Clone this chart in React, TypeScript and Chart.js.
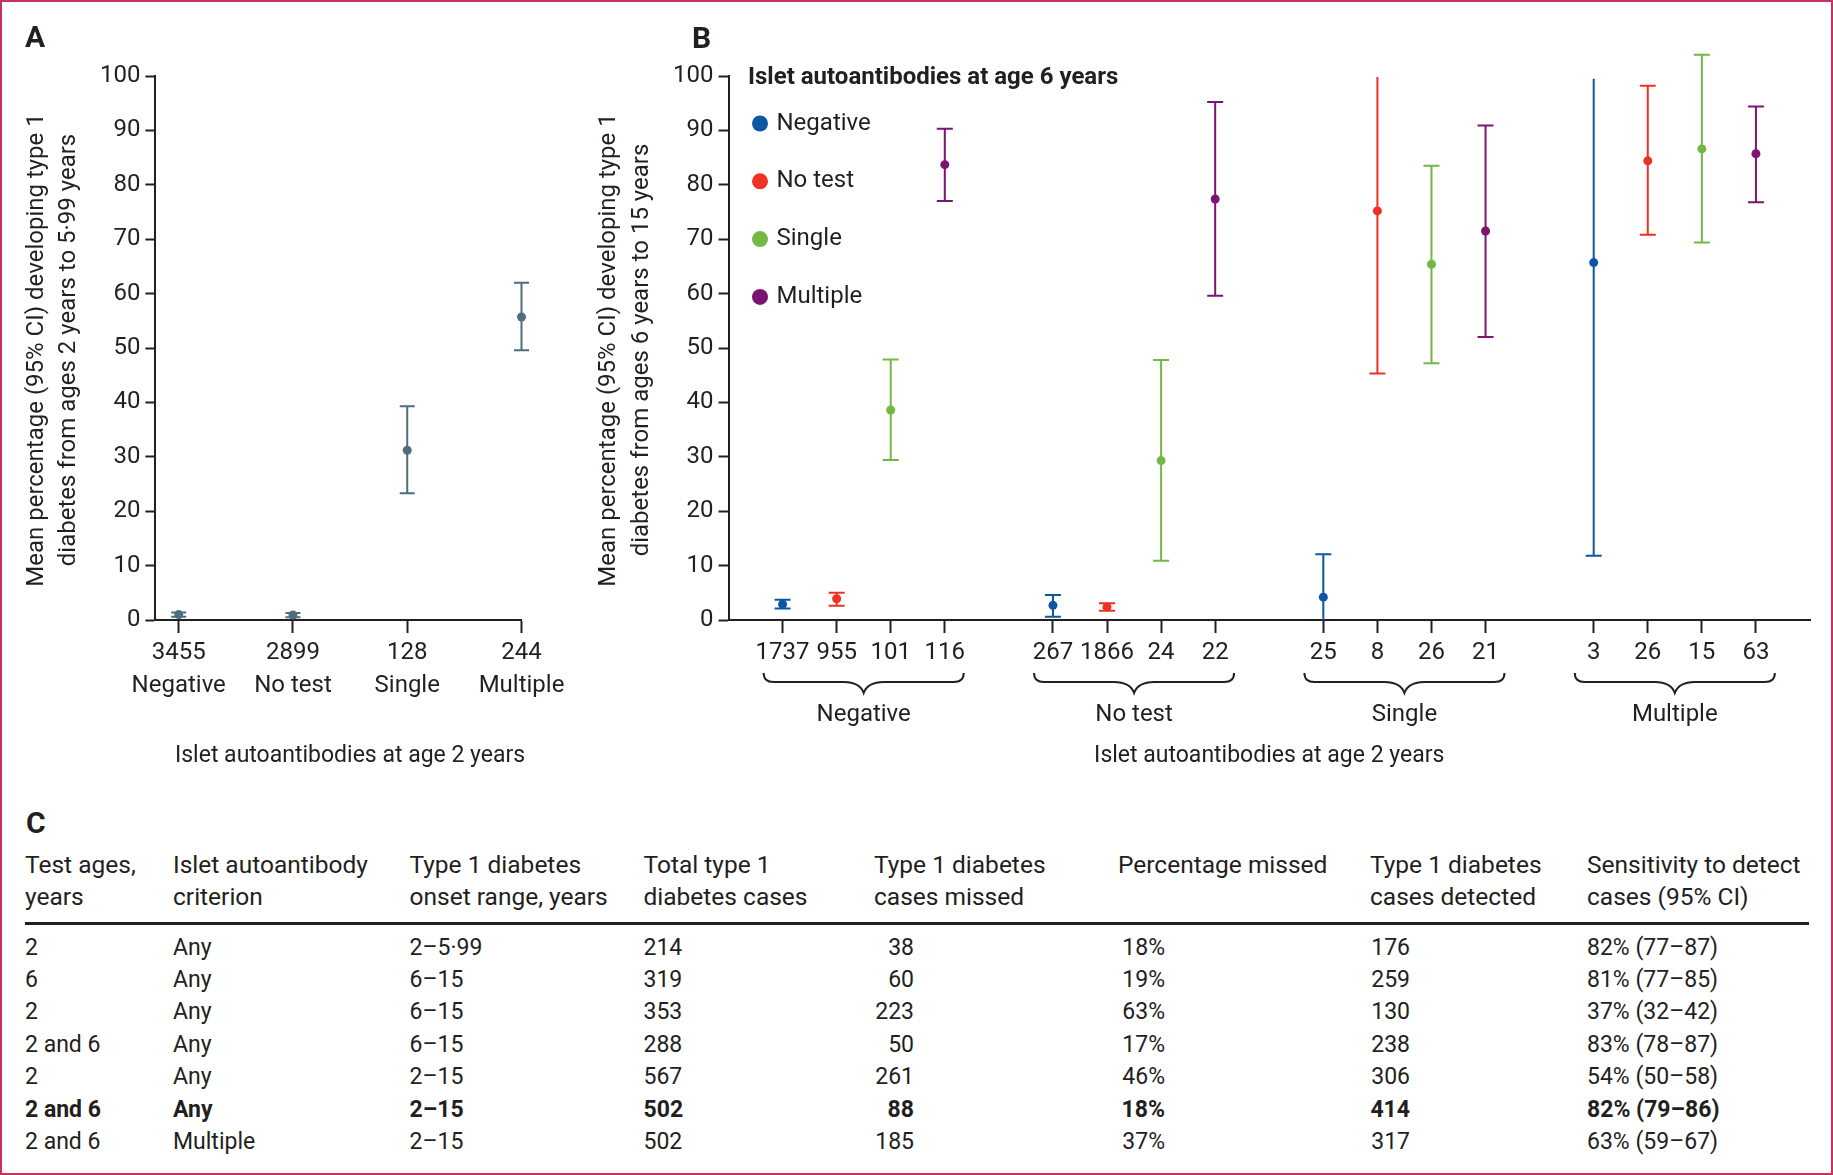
import React, { useEffect, useRef } from 'react';
import { Chart, registerables } from 'chart.js';

Chart.register(...registerables);

// ---------- DATA ----------
// Panel A: islet autoantibodies at age 2 years -> T1D from 2 to 5.99 years
const aCategories = ['Negative', 'No test', 'Single', 'Multiple'];
const aCounts = [3455, 2899, 128, 244];
const aMean = [1.0, 0.9, 31.2, 55.7];
const aLow = [0.6, 0.5, 23.3, 49.6];
const aHigh = [1.4, 1.3, 39.3, 62.0];

// Panel B: groups = autoantibodies at age 2; series = autoantibodies at age 6
const bGroups = ['Negative', 'No test', 'Single', 'Multiple'];
const bSeriesNames = ['Negative', 'No test', 'Single', 'Multiple'];

const bNegN = [1737, 267, 25, 3];
const bNegMean = [2.9, 2.7, 4.2, 65.7];
const bNegLow = [2.1, 0.6, 0, 11.8];
const bNegHigh = [3.7, 4.6, 12.1, 99.5];
const bNegCaps = [[true, true], [true, true], [false, true], [true, false]];

const bNoTestN = [955, 1866, 8, 26];
const bNoTestMean = [3.9, 2.4, 75.2, 84.4];
const bNoTestLow = [2.6, 1.7, 45.3, 70.8];
const bNoTestHigh = [5.0, 3.1, 99.8, 98.2];
const bNoTestCaps = [[true, true], [true, true], [true, false], [true, true]];

const bSingleN = [101, 24, 26, 15];
const bSingleMean = [38.6, 29.3, 65.4, 86.6];
const bSingleLow = [29.4, 10.9, 47.2, 69.4];
const bSingleHigh = [47.9, 47.8, 83.5, 103.9];
const bSingleCaps = [[true, true], [true, true], [true, true], [true, true]];

const bMultipleN = [116, 22, 21, 63];
const bMultipleMean = [83.7, 77.4, 71.5, 85.7];
const bMultipleLow = [77.0, 59.6, 52.0, 76.8];
const bMultipleHigh = [90.3, 95.2, 90.9, 94.4];
const bMultipleCaps = [[true, true], [true, true], [true, true], [true, true]];

const yTicksMax = 100;
const yTickStep = 10;

// Texts
const yTitleA = ['Mean percentage (95% CI) developing type 1', 'diabetes from ages 2 years to 5·99 years'];
const yTitleB = ['Mean percentage (95% CI) developing type 1', 'diabetes from ages 6 years to 15 years'];
const xTitle = 'Islet autoantibodies at age 2 years';
const legendTitle = 'Islet autoantibodies at age 6 years';

// Panel C table
const tableHeaders = [
  ['Test ages,', 'years'],
  ['Islet autoantibody', 'criterion'],
  ['Type 1 diabetes', 'onset range, years'],
  ['Total type 1', 'diabetes cases'],
  ['Type 1 diabetes', 'cases missed'],
  ['Percentage missed', ''],
  ['Type 1 diabetes', 'cases detected'],
  ['Sensitivity to detect', 'cases (95% CI)'],
];
const testAges = ['2', '6', '2', '2 and 6', '2', '2 and 6', '2 and 6'];
const criterion = ['Any', 'Any', 'Any', 'Any', 'Any', 'Any', 'Multiple'];
const onsetRange = ['2–5·99', '6–15', '6–15', '6–15', '2–15', '2–15', '2–15'];
const totalCases = [214, 319, 353, 288, 567, 502, 502];
const casesMissed = [38, 60, 223, 50, 261, 88, 185];
const percentMissed = ['18%', '19%', '63%', '17%', '46%', '18%', '37%'];
const casesDetected = [176, 259, 130, 238, 306, 414, 317];
const sensitivity = ['82% (77–87)', '81% (77–85)', '37% (32–42)', '83% (78–87)', '54% (50–58)', '82% (79–86)', '63% (59–67)'];
const boldRow = 5;

// ---------- STYLE ----------
const FONT = "Roboto, 'Liberation Sans', Arial, sans-serif";
const INK = '#231f20';
const A_COLOR = '#4f6e7d';
const BLUE = '#0b57a4';
const RED = '#ee3124';
const GREEN = '#72b843';
const PURPLE = '#7c1571';
const SERIES_COLORS = [BLUE, RED, GREEN, PURPLE];
const TICK_FONT = 24;
const YTITLE_FONT = 24;
const XTITLE_FONT = 23;
const LEGEND_FONT = 24;

const errorBars = {
  id: 'errorBars',
  beforeDatasetsDraw(chart: any, _a: any, opts: any) {
    const { ctx } = chart;
    const xs = chart.scales.x;
    const ys = chart.scales.y;
    const cap = opts.cap || 8;
    chart.data.datasets.forEach((ds: any) => {
      ctx.save();
      ctx.strokeStyle = ds.borderColor;
      ctx.lineWidth = 2;
      ds.data.forEach((p: any) => {
        const px = xs.getPixelForValue(p.x);
        const pl = ys.getPixelForValue(p.low);
        const ph = ys.getPixelForValue(p.high);
        ctx.beginPath();
        ctx.moveTo(px, pl);
        ctx.lineTo(px, ph);
        if (p.capLow) {
          ctx.moveTo(px - cap, pl);
          ctx.lineTo(px + cap, pl);
        }
        if (p.capHigh) {
          ctx.moveTo(px - cap, ph);
          ctx.lineTo(px + cap, ph);
        }
        ctx.stroke();
      });
      ctx.restore();
    });
  },
};

const annot = {
  id: 'annot',
  afterDraw(chart: any, _a: any, opts: any) {
    const { ctx, chartArea: ca } = chart;
    const xs = chart.scales.x;
    ctx.save();
    ctx.fillStyle = INK;
    ctx.strokeStyle = INK;
    ctx.textAlign = 'center';
    ctx.textBaseline = 'middle';
    // y-axis title (two lines, rotated)
    ctx.font = `${YTITLE_FONT}px ${FONT}`;
    (opts.yTitle as string[]).forEach((line, i) => {
      ctx.save();
      ctx.translate(ca.left + opts.yTitleOffsets[i], (ca.top + ca.bottom) / 2 + 2);
      ctx.rotate(-Math.PI / 2);
      ctx.fillText(line, 0, 0);
      ctx.restore();
    });
    // x-axis title
    ctx.font = `${XTITLE_FONT}px ${FONT}`;
    ctx.fillText(opts.xTitle, xs.getPixelForValue(opts.xTitleAt), ca.bottom + 136.5);
    // group braces
    if (opts.groups) {
      ctx.lineWidth = 2;
      ctx.font = `${TICK_FONT}px ${FONT}`;
      (opts.groups as string[]).forEach((g, gi) => {
        const x1 = xs.getPixelForValue(gi * 5 - 0.35);
        const x2 = xs.getPixelForValue(gi * 5 + 3.35);
        const xm = (x1 + x2) / 2;
        const yT = ca.bottom + 53;
        const yH = ca.bottom + 62;
        const yTip = ca.bottom + 73;
        ctx.beginPath();
        ctx.moveTo(x1, yT);
        ctx.quadraticCurveTo(x1, yH, x1 + 10, yH);
        ctx.lineTo(xm - 20, yH);
        ctx.quadraticCurveTo(xm - 4, yH, xm, yTip);
        ctx.quadraticCurveTo(xm + 4, yH, xm + 20, yH);
        ctx.lineTo(x2 - 10, yH);
        ctx.quadraticCurveTo(x2, yH, x2, yT);
        ctx.stroke();
        ctx.fillText(g, xm, ca.bottom + 95);
      });
    }
    // legend
    if (opts.legend) {
      ctx.textAlign = 'left';
      ctx.font = `bold ${LEGEND_FONT}px ${FONT}`;
      ctx.fillText(opts.legend.title, ca.left + 19.5, ca.top + 2);
      ctx.font = `${LEGEND_FONT}px ${FONT}`;
      (opts.legend.items as string[]).forEach((item, i) => {
        const y = ca.top + 47.5 + i * 57.8;
        ctx.fillStyle = opts.legend.colors[i];
        ctx.beginPath();
        ctx.arc(ca.left + 31.5, y, 8, 0, Math.PI * 2);
        ctx.fill();
        ctx.fillStyle = INK;
        ctx.fillText(item, ca.left + 48, y);
      });
    }
    ctx.restore();
  },
};

function axisCommon(tickLength: number) {
  return {
    grid: { drawOnChartArea: false, drawTicks: true, tickLength, tickWidth: 2, tickColor: INK },
    border: { display: true, color: INK, width: 2 },
  };
}

function yScale(width: number) {
  return {
    min: 0,
    max: yTicksMax,
    ticks: { stepSize: yTickStep, color: INK, padding: 5, font: { family: FONT, size: TICK_FONT } },
    ...axisCommon(10),
    afterFit: (s: any) => {
      s.width = width;
    },
  };
}

function ChartA() {
  const ref = useRef<HTMLCanvasElement>(null);
  useEffect(() => {
    const data = aMean.map((m, i) => ({ x: i, y: m, low: aLow[i], high: aHigh[i], capLow: true, capHigh: true }));
    const chart = new Chart(ref.current!, {
      type: 'scatter',
      data: {
        datasets: [
          {
            data,
            pointRadius: 4.5,
            pointBackgroundColor: A_COLOR,
            pointBorderWidth: 0,
            borderColor: A_COLOR,
            clip: false,
          } as any,
        ],
      },
      options: {
        responsive: false,
        animation: false,
        events: [],
        layout: { padding: { left: 0, top: 76, right: 600 - 521.5, bottom: 50 } },
        plugins: {
          legend: { display: false },
          tooltip: { enabled: false },
          errorBars: { cap: 7.5 },
          annot: { yTitle: yTitleA, yTitleOffsets: [-118, -86], xTitle, xTitleAt: 1.5 },
        } as any,
        scales: {
          x: {
            type: 'linear',
            min: -0.204,
            max: 3,
            afterBuildTicks: (s: any) => {
              s.ticks = aCounts.map((_, i) => ({ value: i }));
            },
            ticks: {
              autoSkip: false,
              maxRotation: 0,
              padding: 3,
              color: INK,
              font: { family: FONT, size: TICK_FONT, lineHeight: 1.4 },
              callback: (v: any) => [String(aCounts[v]), aCategories[v]],
            },
            ...axisCommon(13),
            afterFit: (s: any) => {
              s.height = 120;
            },
          } as any,
          y: yScale(155.4) as any,
        },
      },
      plugins: [errorBars, annot],
    });
    return () => chart.destroy();
  }, []);
  return <canvas ref={ref} width={600} height={790} style={{ position: 'absolute', left: 0, top: 0, width: 600, height: 790 }} />;
}

function ChartB() {
  const ref = useRef<HTMLCanvasElement>(null);
  useEffect(() => {
    const series = [
      { n: bNegN, mean: bNegMean, low: bNegLow, high: bNegHigh, caps: bNegCaps },
      { n: bNoTestN, mean: bNoTestMean, low: bNoTestLow, high: bNoTestHigh, caps: bNoTestCaps },
      { n: bSingleN, mean: bSingleMean, low: bSingleLow, high: bSingleHigh, caps: bSingleCaps },
      { n: bMultipleN, mean: bMultipleMean, low: bMultipleLow, high: bMultipleHigh, caps: bMultipleCaps },
    ];
    const countAt: Record<number, number> = {};
    const positions: number[] = [];
    bGroups.forEach((_, g) =>
      series.forEach((s, si) => {
        const pos = g * 5 + si;
        positions.push(pos);
        countAt[pos] = s.n[g];
      })
    );
    positions.sort((a, b) => a - b);
    const datasets = series.map((s, si) => ({
      label: bSeriesNames[si],
      data: s.mean.map((m, g) => ({
        x: g * 5 + si,
        y: m,
        low: s.low[g],
        high: s.high[g],
        capLow: s.caps[g][0],
        capHigh: s.caps[g][1],
      })),
      pointRadius: 4.5,
      pointBackgroundColor: SERIES_COLORS[si],
      pointBorderWidth: 0,
      borderColor: SERIES_COLORS[si],
      clip: false,
    }));
    const chart = new Chart(ref.current!, {
      type: 'scatter',
      data: { datasets: datasets as any },
      options: {
        responsive: false,
        animation: false,
        events: [],
        layout: { padding: { left: 0, top: 76, right: 1253 - 1230, bottom: 50 } },
        plugins: {
          legend: { display: false },
          tooltip: { enabled: false },
          errorBars: { cap: 8 },
          annot: {
            yTitle: yTitleB,
            yTitleOffsets: [-119.5, -87],
            xTitle,
            xTitleAt: 9,
            groups: bGroups,
            legend: { title: legendTitle, items: bSeriesNames, colors: SERIES_COLORS },
          },
        } as any,
        scales: {
          x: {
            type: 'linear',
            min: -1,
            max: 19,
            afterBuildTicks: (s: any) => {
              s.ticks = positions.map((p) => ({ value: p }));
            },
            ticks: {
              autoSkip: false,
              maxRotation: 0,
              padding: 3,
              color: INK,
              font: { family: FONT, size: TICK_FONT, lineHeight: 1.4 },
              callback: (v: any) => String(countAt[v]),
            },
            ...axisCommon(13),
            afterFit: (s: any) => {
              s.height = 120;
            },
          } as any,
          y: yScale(148.5) as any,
        },
      },
      plugins: [errorBars, annot],
    });
    return () => chart.destroy();
  }, []);
  return <canvas ref={ref} width={1253} height={790} style={{ position: 'absolute', left: 580, top: 0, width: 1253, height: 790 }} />;
}

const colLeft = [25, 173, 409.5, 643.5, 874, 1118, 1370, 1587];
const HEAD_FONT = 24.5;
const ROW_FONT = 23;

function Cell({ x, y, text, size, bold, align }: any) {
  const style: React.CSSProperties = {
    position: 'absolute',
    top: y - size / 2,
    fontSize: size,
    lineHeight: 1,
    whiteSpace: 'nowrap',
    fontWeight: bold ? 700 : 400,
    color: INK,
  };
  if (align === 'right') {
    style.left = x - 300;
    style.width = 300;
    style.textAlign = 'right';
  } else {
    style.left = x;
  }
  return <div style={style}>{text}</div>;
}

function Table() {
  const rowY = (i: number) => 947 + i * 32.45;
  const cells: any[] = [];
  tableHeaders.forEach((h, c) => {
    cells.push(<Cell key={`h1${c}`} x={colLeft[c]} y={865} text={h[0]} size={HEAD_FONT} />);
    if (h[1]) cells.push(<Cell key={`h2${c}`} x={colLeft[c]} y={897} text={h[1]} size={HEAD_FONT} />);
  });
  testAges.forEach((_, r) => {
    const b = r === boldRow;
    const y = rowY(r);
    cells.push(<Cell key={`a${r}`} x={colLeft[0]} y={y} text={testAges[r]} size={ROW_FONT} bold={b} />);
    cells.push(<Cell key={`b${r}`} x={colLeft[1]} y={y} text={criterion[r]} size={ROW_FONT} bold={b} />);
    cells.push(<Cell key={`c${r}`} x={colLeft[2]} y={y} text={onsetRange[r]} size={ROW_FONT} bold={b} />);
    cells.push(<Cell key={`d${r}`} x={colLeft[3]} y={y} text={String(totalCases[r])} size={ROW_FONT} bold={b} />);
    cells.push(<Cell key={`e${r}`} x={914} y={y} text={String(casesMissed[r])} size={ROW_FONT} bold={b} align="right" />);
    cells.push(<Cell key={`f${r}`} x={1165} y={y} text={percentMissed[r]} size={ROW_FONT} bold={b} align="right" />);
    cells.push(<Cell key={`g${r}`} x={1410} y={y} text={String(casesDetected[r])} size={ROW_FONT} bold={b} align="right" />);
    cells.push(<Cell key={`h${r}`} x={colLeft[7]} y={y} text={sensitivity[r]} size={ROW_FONT} bold={b} />);
  });
  return (
    <>
      {cells}
      <div style={{ position: 'absolute', left: 25, top: 922, width: 1809 - 25, height: 2.5, background: INK }} />
    </>
  );
}

export default function App() {
  const letter = (t: string, x: number, y: number) => (
    <div style={{ position: 'absolute', left: x, top: y, fontSize: 30, fontWeight: 700, lineHeight: 1, color: INK }}>{t}</div>
  );
  return (
    <div
      style={{
        position: 'fixed',
        left: 0,
        top: 0,
        width: 1833,
        height: 1175,
        background: '#fff',
        fontFamily: FONT,
        overflow: 'hidden',
      }}
    >
      <ChartA />
      <ChartB />
      {letter('A', 25, 22)}
      {letter('B', 692, 23)}
      {letter('C', 26, 808)}
      <Table />
      <div
        style={{
          position: 'absolute',
          left: 0,
          top: 0,
          width: 1833,
          height: 1175,
          boxSizing: 'border-box',
          border: '2px solid #c8325e',
          pointerEvents: 'none',
        }}
      />
    </div>
  );
}
